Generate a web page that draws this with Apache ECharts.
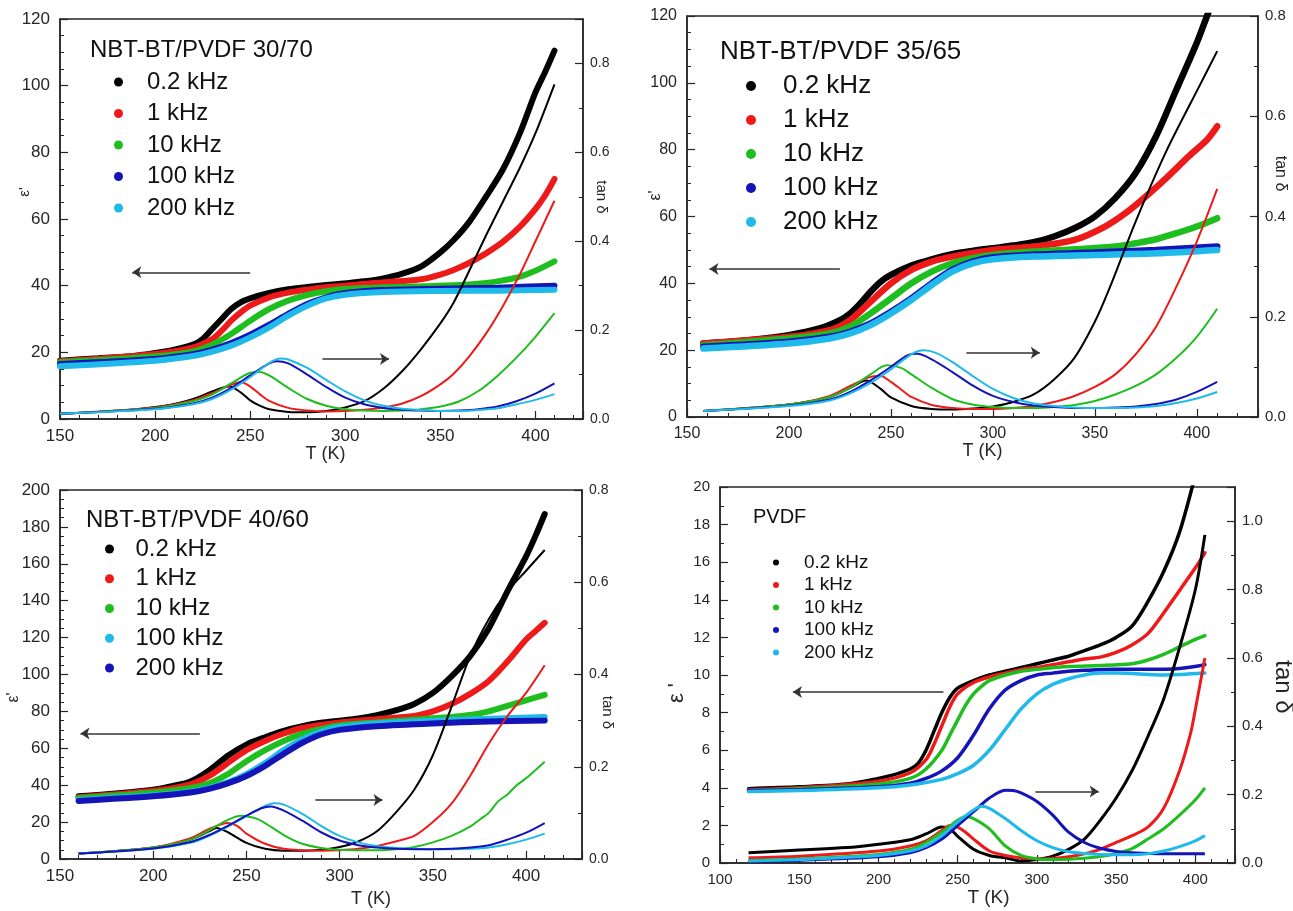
<!DOCTYPE html>
<html>
<head>
<meta charset="utf-8">
<script src="https://cdn.jsdelivr.net/npm/echarts/dist/echarts.min.js"></script>
<style>
html, body { margin: 0; padding: 0; background: #fff; }
#main { width: 1293px; height: 911px; }
</style>
</head>
<body>
<div id="main"></div>
<script>
'use strict';

// ---- data: [T (K), value] ----
const freqs = ['0.2 kHz', '1 kHz', '10 kHz', '100 kHz', '200 kHz'];

// NBT-BT/PVDF 30/70
const aEps02 = [[150,17.5],[170,18.2],[190,19],[200,19.8],[210,20.8],[220,22.3],[225,24],[230,27],[235,30],[240,33],[245,35],[250,36.2],[260,37.8],[270,38.9],[280,39.6],[290,40.2],[300,40.7],[310,41.3],[320,42.2],[330,43.6],[340,45.8],[350,50],[357,53.7],[365,59],[374,66.7],[383,75],[392,86],[400,98],[405,104],[410,110.5]];
const aEps1 = [[150,17.3],[200,19.5],[220,21.5],[230,24],[235,26.5],[240,29.5],[245,32],[250,34],[260,36.5],[270,37.9],[280,38.8],[290,39.5],[300,40],[315,40.8],[330,41.4],[340,41.9],[350,43.3],[357,44.7],[365,46.8],[374,49.7],[383,53.2],[392,57.8],[400,63],[405,67],[410,72]];
const aEps10 = [[150,17],[200,18.8],[220,20.3],[230,22.3],[240,25.5],[250,29.5],[260,33],[270,35.5],[280,37.2],[290,38.3],[300,39],[320,39.5],[340,39.8],[360,40.2],[374,40.8],[380,41.3],[390,42.4],[400,44.5],[410,47.3]];
const aEps100 = [[150,16.5],[200,18],[220,19.4],[230,20.8],[240,22.8],[250,25.3],[260,28.3],[270,31.5],[280,34.5],[290,36.5],[300,37.8],[320,38.7],[350,39.1],[380,39.4],[410,40]];
const aEps200 = [[150,15.8],[200,17.5],[220,18.9],[230,20.2],[240,22],[250,24.5],[260,27.5],[270,31],[280,34],[290,36.2],[300,37.3],[320,38.1],[350,38.4],[380,38.5],[410,38.8]];
const aTan02 = [[150,0.012],[170,0.016],[190,0.022],[200,0.027],[210,0.034],[220,0.045],[230,0.062],[235,0.07],[239,0.073],[245,0.06],[250,0.042],[255,0.03],[260,0.022],[270,0.016],[280,0.015],[290,0.018],[300,0.026],[310,0.04],[320,0.068],[330,0.108],[340,0.158],[350,0.215],[357,0.262],[365,0.332],[374,0.413],[383,0.49],[392,0.567],[400,0.643],[410,0.753]];
const aTan1 = [[150,0.012],[200,0.026],[220,0.042],[230,0.058],[240,0.077],[245,0.083],[250,0.073],[255,0.056],[260,0.041],[270,0.025],[280,0.019],[290,0.017],[300,0.018],[310,0.021],[320,0.026],[330,0.035],[340,0.052],[350,0.078],[357,0.102],[365,0.14],[374,0.192],[383,0.255],[392,0.327],[400,0.4],[410,0.491]];
const aTan10 = [[150,0.012],[200,0.025],[220,0.04],[230,0.055],[240,0.08],[250,0.104],[255,0.106],[260,0.098],[270,0.07],[280,0.045],[290,0.03],[300,0.022],[310,0.019],[320,0.018],[330,0.019],[340,0.022],[350,0.028],[360,0.04],[370,0.063],[380,0.097],[390,0.138],[400,0.185],[410,0.238]];
const aTan100 = [[150,0.012],[200,0.023],[220,0.035],[230,0.048],[240,0.07],[250,0.098],[260,0.125],[264,0.13],[270,0.125],[280,0.1],[290,0.072],[300,0.048],[310,0.033],[320,0.025],[330,0.021],[340,0.019],[350,0.018],[360,0.019],[370,0.022],[380,0.028],[390,0.04],[400,0.057],[410,0.08]];
const aTan200 = [[150,0.012],[200,0.022],[220,0.033],[230,0.045],[240,0.066],[250,0.094],[260,0.126],[266,0.136],[270,0.134],[280,0.115],[290,0.088],[300,0.062],[310,0.042],[320,0.03],[330,0.023],[340,0.02],[350,0.018],[360,0.018],[370,0.02],[380,0.024],[390,0.033],[400,0.043],[410,0.056]];

// NBT-BT/PVDF 35/65
const bEps02 = [[158,22],[180,23],[200,24.5],[215,26.5],[225,29],[230,31],[235,34],[240,37.5],[245,40.5],[250,42.5],[260,45.3],[270,47.2],[280,48.7],[290,49.7],[300,50.5],[310,51.3],[320,52.3],[330,54],[340,56.5],[350,60],[360,65.5],[370,73],[380,84],[390,98],[400,112],[405,120],[410,128]];
const bEps1 = [[158,22],[200,24],[220,26],[230,29],[240,34.5],[250,40],[260,44],[270,46.5],[280,48],[300,50],[320,51],[340,53],[355,57],[365,61],[375,66],[385,71.5],[396,78],[405,83],[410,87]];
const bEps10 = [[158,21.5],[200,23.5],[220,25],[230,27],[240,31],[250,35.5],[260,40],[270,43.5],[280,46],[290,47.5],[300,48.5],[320,49.5],[340,50.2],[360,51],[370,52],[380,53.2],[390,55],[400,57],[410,59.5]];
const bEps100 = [[158,21],[200,22.5],[220,24],[230,25.5],[240,28],[250,31.5],[260,35.5],[270,40],[280,44],[290,46.5],[300,47.8],[320,48.6],[350,49.2],[380,50],[410,51]];
const bEps200 = [[158,20.5],[200,22],[220,23.5],[230,25],[240,27.5],[250,31],[260,35],[270,39.5],[280,43.5],[290,46],[300,47.2],[320,48],[350,48.5],[380,49],[410,50]];
const bTan02 = [[158,0.012],[200,0.025],[220,0.04],[230,0.058],[238,0.073],[245,0.056],[250,0.039],[260,0.022],[270,0.016],[280,0.015],[290,0.017],[300,0.021],[310,0.03],[320,0.045],[330,0.075],[340,0.118],[350,0.19],[357,0.255],[370,0.39],[385,0.53],[402,0.666],[410,0.73]];
const bTan1 = [[158,0.012],[200,0.025],[220,0.042],[230,0.062],[240,0.08],[245,0.082],[250,0.07],[255,0.055],[260,0.04],[270,0.024],[280,0.018],[290,0.016],[300,0.016],[310,0.018],[320,0.022],[330,0.03],[340,0.042],[350,0.06],[360,0.085],[370,0.125],[380,0.18],[390,0.26],[400,0.35],[410,0.455]];
const bTan10 = [[158,0.012],[200,0.025],[220,0.04],[230,0.058],[240,0.085],[248,0.103],[255,0.098],[260,0.085],[270,0.058],[280,0.036],[290,0.025],[300,0.02],[310,0.018],[320,0.018],[330,0.02],[340,0.024],[350,0.032],[360,0.045],[370,0.062],[380,0.085],[390,0.118],[400,0.16],[410,0.216]];
const bTan100 = [[158,0.012],[200,0.023],[220,0.035],[230,0.05],[240,0.073],[250,0.1],[258,0.123],[263,0.126],[270,0.115],[280,0.09],[290,0.063],[300,0.042],[310,0.03],[320,0.023],[330,0.02],[340,0.018],[350,0.018],[360,0.019],[370,0.021],[380,0.026],[390,0.035],[400,0.05],[410,0.07]];
const bTan200 = [[158,0.012],[200,0.022],[220,0.033],[230,0.047],[240,0.068],[250,0.095],[260,0.125],[266,0.133],[272,0.128],[280,0.11],[290,0.082],[300,0.056],[310,0.038],[320,0.027],[330,0.022],[340,0.019],[350,0.018],[360,0.018],[370,0.019],[380,0.022],[390,0.028],[400,0.037],[410,0.05]];

// NBT-BT/PVDF 40/60
const cEps02 = [[160,34],[180,35.5],[200,37.5],[210,39.5],[220,42],[230,48],[240,56],[250,62],[260,66],[270,69.5],[280,72],[290,73.8],[300,75],[310,76.2],[320,78],[330,80.5],[340,84],[350,90],[360,99],[370,110],[380,125],[390,145],[400,164],[405,175],[410,187]];
const cEps1 = [[160,33.5],[200,37],[220,40.5],[230,45],[240,52],[250,59],[260,64],[270,68],[280,71],[300,74],[320,75.8],[340,77.5],[350,80],[360,84],[370,89.5],[380,96.5],[390,107],[400,119],[405,123.5],[410,128]];
const cEps10 = [[160,33],[200,36],[220,38.5],[230,41],[240,46],[250,53],[260,59],[270,64],[280,68],[290,70.5],[300,72.5],[320,74],[340,75.5],[360,77],[370,78],[380,80],[390,83],[400,86],[410,89]];
const cEps100 = [[160,32],[200,34.5],[220,36.5],[230,38.5],[240,41.5],[250,46],[260,52],[270,59],[280,65],[290,69],[300,71.5],[320,73.5],[350,75],[380,76],[410,77]];
const cEps200 = [[160,31.5],[200,34],[220,36],[230,38],[240,41],[250,45],[260,50.5],[270,57],[280,63],[290,67.5],[300,70],[320,72],[350,73.5],[380,74.5],[410,75]];
const cTan02 = [[160,0.012],[200,0.025],[220,0.042],[230,0.06],[234,0.067],[240,0.058],[250,0.035],[260,0.022],[270,0.018],[280,0.018],[290,0.02],[300,0.026],[310,0.038],[320,0.06],[330,0.1],[340,0.15],[350,0.225],[360,0.33],[370,0.44],[380,0.52],[390,0.58],[400,0.625],[410,0.67]];
const cTan1 = [[160,0.012],[200,0.025],[220,0.045],[230,0.065],[240,0.078],[245,0.072],[250,0.055],[260,0.033],[270,0.022],[280,0.019],[290,0.018],[300,0.019],[310,0.022],[320,0.028],[330,0.038],[340,0.05],[350,0.08],[360,0.12],[370,0.18],[380,0.25],[390,0.31],[400,0.36],[410,0.42]];
const cTan10 = [[160,0.012],[200,0.025],[220,0.042],[230,0.062],[240,0.085],[247,0.094],[255,0.088],[260,0.078],[270,0.052],[280,0.033],[290,0.024],[300,0.02],[310,0.019],[320,0.019],[330,0.021],[340,0.026],[350,0.036],[360,0.05],[370,0.07],[375,0.085],[380,0.1],[385,0.125],[390,0.14],[395,0.16],[400,0.175],[410,0.211]];
const cTan100 = [[160,0.012],[200,0.022],[220,0.035],[230,0.05],[240,0.07],[250,0.093],[260,0.115],[265,0.121],[270,0.118],[280,0.098],[290,0.072],[300,0.05],[310,0.036],[320,0.028],[330,0.024],[340,0.022],[350,0.021],[360,0.021],[370,0.022],[380,0.025],[390,0.032],[400,0.042],[410,0.055]];
const cTan200 = [[160,0.012],[200,0.023],[220,0.037],[230,0.052],[240,0.072],[250,0.094],[258,0.11],[263,0.114],[270,0.105],[280,0.083],[290,0.058],[300,0.04],[310,0.03],[320,0.025],[330,0.022],[340,0.021],[350,0.021],[360,0.022],[370,0.025],[380,0.03],[390,0.042],[400,0.057],[410,0.078]];

// PVDF
const dEps02 = [[118,3.95],[150,4.05],[180,4.2],[200,4.5],[210,4.7],[220,5],[225,5.3],[230,6],[235,7],[240,8],[245,8.8],[250,9.3],[260,9.7],[270,10],[280,10.2],[290,10.4],[300,10.6],[310,10.8],[320,11],[330,11.3],[340,11.6],[350,12],[360,12.6],[370,13.9],[380,15.5],[390,17.6],[400,20.6],[405,22]];
const dEps1 = [[118,3.9],[150,4],[200,4.35],[220,4.8],[230,5.5],[235,6.3],[240,7.3],[245,8.3],[250,9],[260,9.6],[270,9.9],[280,10.1],[290,10.3],[300,10.4],[320,10.7],[330,10.85],[340,10.95],[350,11.2],[360,11.6],[370,12.2],[380,13.3],[390,14.5],[400,15.7],[406,16.5]];
const dEps10 = [[118,3.85],[150,3.95],[200,4.2],[220,4.5],[230,5],[240,6],[245,6.8],[250,7.6],[255,8.4],[260,9],[265,9.4],[270,9.7],[280,10],[290,10.2],[300,10.3],[320,10.45],[340,10.5],[360,10.6],[370,10.8],[380,11.1],[390,11.5],[400,11.9],[406,12.1]];
const dEps100 = [[118,3.85],[150,3.9],[200,4.05],[220,4.25],[230,4.5],[240,4.9],[250,5.6],[260,6.8],[270,8.2],[280,9.2],[290,9.7],[300,10],[310,10.1],[320,10.2],[330,10.25],[350,10.3],[370,10.3],[390,10.35],[406,10.55]];
const dEps200 = [[118,3.8],[150,3.85],[200,4],[220,4.15],[240,4.45],[250,4.75],[260,5.2],[270,6],[280,7.1],[290,8.2],[300,9],[310,9.5],[320,9.8],[330,10],[340,10.1],[350,10.1],[380,10],[406,10.1]];
const dTan02 = [[118,0.03],[150,0.038],[180,0.045],[200,0.055],[220,0.068],[230,0.085],[240,0.105],[245,0.1],[250,0.078],[260,0.04],[270,0.022],[280,0.015],[290,0.006],[300,0.01],[310,0.02],[320,0.04],[330,0.07],[340,0.125],[350,0.19],[360,0.27],[370,0.37],[380,0.48],[390,0.63],[400,0.8],[406,0.96]];
const dTan1 = [[118,0.015],[150,0.02],[200,0.035],[220,0.05],[230,0.065],[240,0.095],[245,0.11],[250,0.105],[255,0.09],[260,0.07],[270,0.035],[280,0.022],[290,0.015],[300,0.012],[310,0.013],[320,0.018],[330,0.027],[340,0.04],[350,0.06],[360,0.08],[370,0.105],[380,0.16],[390,0.27],[397,0.38],[400,0.45],[406,0.6]];
const dTan10 = [[118,0.008],[150,0.012],[200,0.025],[220,0.04],[230,0.06],[240,0.09],[250,0.125],[255,0.136],[260,0.13],[270,0.1],[280,0.05],[290,0.022],[300,0.012],[310,0.01],[320,0.011],[330,0.014],[340,0.019],[350,0.028],[360,0.042],[370,0.07],[380,0.1],[390,0.14],[400,0.185],[406,0.22]];
const dTan100 = [[118,0.005],[150,0.008],[200,0.018],[220,0.03],[230,0.045],[240,0.07],[250,0.11],[260,0.15],[270,0.19],[280,0.213],[285,0.212],[290,0.205],[300,0.18],[310,0.14],[320,0.09],[330,0.06],[340,0.043],[350,0.034],[360,0.03],[380,0.027],[406,0.027]];
const dTan200 = [[118,0.006],[150,0.01],[200,0.022],[220,0.035],[230,0.05],[240,0.08],[250,0.12],[260,0.155],[265,0.166],[270,0.16],[280,0.13],[290,0.095],[300,0.065],[310,0.045],[320,0.033],[330,0.028],[340,0.025],[350,0.024],[360,0.024],[370,0.027],[380,0.035],[390,0.048],[400,0.065],[406,0.08]];

// arrow annotations, in data units of the left axis
const aArrows = [[[250,44],[188,44]], [[288,18],[323,18]]];
const bArrows = [[[225,44.3],[161,44.3]], [[287,19.2],[323,19.2]]];
const cArrows = [[[225,68],[161,68]], [[287,32],[323,32]]];
const dArrows = [[[241,9.1],[146,9.1]], [[299,3.8],[339,3.8]]];

const black = '#000000', red = '#ee1a1a', green = '#1fbe1f', blue = '#1414b8', cyan = '#1fb9ea';
const ink = '#262626';
const font = 'Liberation Sans, Arial, sans-serif';

let panels = [{
	key: 'a', title: 'NBT-BT/PVDF 30/70', titleSize: 24, titlePos: [90, 38],
	grid: [60, 19, 523, 400], x: [150, 425], yl: [0, 120, 20, 4], yr: [0, 0.9],
	eps: [aEps02, aEps1, aEps10, aEps100, aEps200],
	tan: [aTan02, aTan1, aTan10, aTan100, aTan200],
	colors: [black, red, green, blue, cyan], arrows: aArrows,
	epsWidth: 6, tanWidth: 2,
	legend: { left: 114, top: 70, size: 24, gap: 7.5, textGap: 24, dot: 9 },
	labelSize: 17, rightLabelSize: 14,
	xName: { size: 18, gap: 26, shift: 4 },
	lName: { text: "ε'", size: 15, gap: 28, shift: 27 },
	rName: { text: 'tan δ', size: 15, gap: 11, shift: 22 }
}, {
	key: 'b', title: 'NBT-BT/PVDF 35/65', titleSize: 26, titlePos: [720, 39],
	grid: [687, 16, 571, 401], x: [150, 430], yl: [0, 120, 20, 4], yr: [0, 0.8],
	eps: [bEps02, bEps1, bEps10, bEps100, bEps200],
	tan: [bTan02, bTan1, bTan10, bTan100, bTan200],
	colors: [black, red, green, blue, cyan], arrows: bArrows,
	epsWidth: 6.5, tanWidth: 2,
	legend: { left: 746, top: 73, size: 26, gap: 8, textGap: 27, dot: 10 },
	labelSize: 16, rightLabelSize: 15,
	xName: { size: 18, gap: 25, shift: 10 },
	lName: { text: "ε'", size: 16, gap: 23, shift: 21 },
	rName: { text: 'tan δ', size: 16, gap: 14, shift: 43 }
}, {
	key: 'c', title: 'NBT-BT/PVDF 40/60', titleSize: 24, titlePos: [86, 508],
	grid: [60, 490, 522, 369], x: [150, 430], yl: [0, 200, 20, 4], yr: [0, 0.8],
	eps: [cEps02, cEps1, cEps10, cEps100, cEps200],
	tan: [cTan02, cTan1, cTan10, cTan100, cTan200],
	colors: [black, red, green, cyan, blue], arrows: cArrows,
	epsWidth: 6, tanWidth: 2,
	legend: { left: 105, top: 537, size: 24, gap: 5.75, textGap: 21.5, dot: 9 },
	labelSize: 17, rightLabelSize: 14,
	xName: { size: 18, gap: 31, shift: 50 },
	lName: { text: "ε'", size: 16, gap: 38, shift: -23 },
	rName: { text: 'tan δ', size: 15, gap: 18, shift: -38 }
}, {
	key: 'd', title: 'PVDF', titleSize: 20, titlePos: [753, 507],
	grid: [720, 487, 515, 376], x: [100, 425], yl: [0, 20, 2, 2], yr: [0, 1.1],
	eps: [dEps02, dEps1, dEps10, dEps100, dEps200],
	tan: [dTan02, dTan1, dTan10, dTan100, dTan200],
	colors: [black, red, green, blue, cyan], arrows: dArrows,
	epsWidth: 3.5, tanWidth: 3,
	legend: { left: 773, top: 553, size: 19, gap: 3.5, textGap: 25, dot: 6 },
	labelSize: 15, rightLabelSize: 15,
	xName: { size: 19, gap: 25, shift: 11 },
	lName: { text: "ε '", size: 22, gap: 32, shift: -18 },
	rName: { text: 'tan δ', size: 24, gap: 36, shift: -12 }
}];

function onStep(v, step) {
	return Math.abs(v / step - Math.round(v / step)) < 1e-6;
}

// move a rotated axis name along its axis through its text padding
function namePad(shift, rotate) {
	let d = Math.abs(shift) * 2;
	let forward = (rotate === 90) ? shift > 0 : shift < 0;
	return forward ? [0, 0, 0, d] : [0, d, 0, 0];
}

let grid = [], xAxis = [], yAxis = [], series = [], legend = [], title = [];

panels.forEach((p, i) => {
	grid.push({
		left: p.grid[0], top: p.grid[1], width: p.grid[2], height: p.grid[3],
		show: true, borderColor: ink, borderWidth: 1.5, backgroundColor: 'transparent',
		containLabel: false, outerBoundsMode: 'none'
	});
	let tick = { inside: true, length: 8, lineStyle: { color: ink, width: 1.2 } };
	let minor = (n) => ({ show: true, splitNumber: n, length: 4, lineStyle: { color: ink, width: 1 } });
	let line = { show: true, onZero: false, lineStyle: { color: ink, width: 1.5 } };
	xAxis.push({
		type: 'value', gridIndex: i, min: p.x[0], max: p.x[1], interval: 50,
		name: 'T (K)', nameLocation: 'middle', nameGap: p.xName.gap, nameMoveOverlap: false,
		nameTextStyle: { fontSize: p.xName.size, color: ink, fontFamily: font, padding: [0, 0, 0, p.xName.shift * 2] },
		axisLine: line, axisTick: tick, minorTick: minor(5),
		axisLabel: { fontSize: p.labelSize, color: ink, fontFamily: font, margin: 9,
			formatter: v => onStep(v, 50) ? String(v) : '' },
		splitLine: { show: false }
	});
	yAxis.push({
		type: 'value', gridIndex: i, position: 'left', min: p.yl[0], max: p.yl[1], interval: p.yl[2],
		name: p.lName.text, nameLocation: 'middle', nameGap: p.lName.gap, nameRotate: 90, nameMoveOverlap: false,
		nameTextStyle: { fontSize: p.lName.size, color: ink, fontFamily: font, padding: namePad(p.lName.shift, 90) },
		axisLine: line, axisTick: tick, minorTick: minor(p.yl[3]),
		axisLabel: { fontSize: p.labelSize, color: ink, fontFamily: font, margin: 10 },
		splitLine: { show: false }
	});
	yAxis.push({
		type: 'value', gridIndex: i, position: 'right', min: p.yr[0], max: p.yr[1], interval: 0.2,
		name: p.rName.text, nameLocation: 'middle', nameGap: p.rName.gap, nameRotate: -90, nameMoveOverlap: false,
		nameTextStyle: { fontSize: p.rName.size, color: ink, fontFamily: font, padding: namePad(p.rName.shift, -90) },
		axisLine: line, axisTick: tick, minorTick: minor(2),
		axisLabel: { fontSize: p.rightLabelSize, color: ink, fontFamily: font, margin: 7,
			formatter: v => onStep(v, 0.2) ? v.toFixed(1) : '' },
		splitLine: { show: false }
	});

	let names = freqs.map(f => p.key + '|' + f);
	p.eps.forEach((d, k) => {
		let s = {
			name: names[k], type: 'line', xAxisIndex: i, yAxisIndex: 2 * i, data: d,
			showSymbol: false, smooth: 0.3, clip: true,
			color: p.colors[k],
			lineStyle: { color: p.colors[k], width: p.epsWidth, cap: 'round' },
			itemStyle: { color: p.colors[k] },
			z: 3
		};
		if (k === 0) {
			s.markLine = {
				silent: true, symbol: ['none', 'arrow'], symbolSize: 9,
				label: { show: false },
				lineStyle: { color: '#333', width: 1.5, type: 'solid' },
				data: p.arrows.map(a => [{ coord: a[0] }, { coord: a[1] }])
			};
		}
		series.push(s);
	});
	p.tan.forEach((d, k) => {
		series.push({
			name: names[k], type: 'line', xAxisIndex: i, yAxisIndex: 2 * i + 1, data: d,
			showSymbol: false, smooth: 0.3, clip: true,
			color: p.colors[k],
			lineStyle: { color: p.colors[k], width: p.tanWidth },
			itemStyle: { color: p.colors[k] },
			z: 4
		});
	});

	legend.push({
		left: p.legend.left, top: p.legend.top, orient: 'vertical', padding: 0,
		icon: 'circle', itemWidth: p.legend.dot, itemHeight: p.legend.dot,
		itemGap: p.legend.gap, selectedMode: false,
		textStyle: { fontSize: p.legend.size, color: '#111', fontFamily: font, padding: [0, 0, 0, p.legend.textGap - 5] },
		formatter: n => n.split('|')[1],
		data: names.map((n, k) => ({ name: n, itemStyle: { color: p.colors[k], borderWidth: 0 } }))
	});
	title.push({
		text: p.title, left: p.titlePos[0], top: p.titlePos[1], padding: 0,
		textStyle: { fontSize: p.titleSize, fontWeight: 'normal', color: '#111', fontFamily: font }
	});
});

let myChart = echarts.init(document.getElementById('main'));

let option = {
	backgroundColor: '#ffffff',
	animation: false,
	textStyle: { fontFamily: font },
	title: title,
	legend: legend,
	grid: grid,
	xAxis: xAxis,
	yAxis: yAxis,
	series: series
};
myChart.setOption(option);
</script>
</body>
</html>
